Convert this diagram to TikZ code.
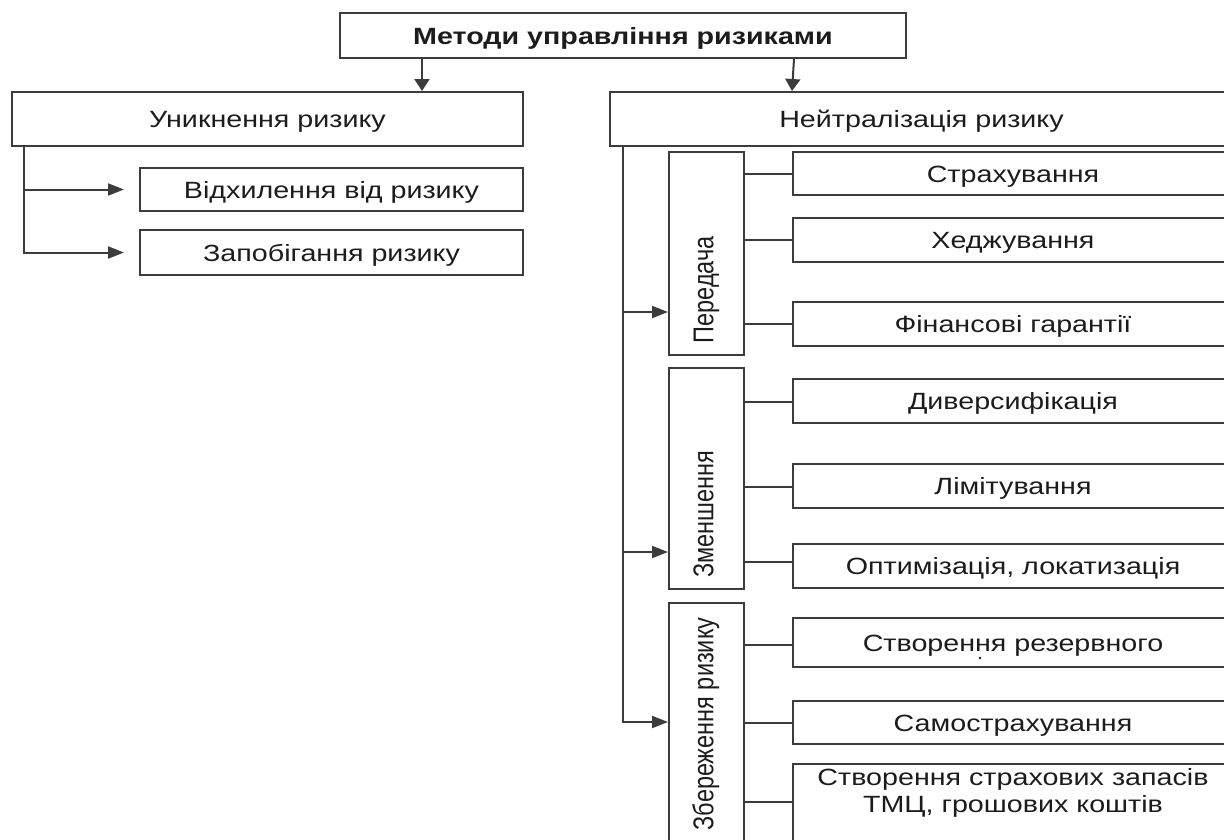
\documentclass[tikz,border=0pt]{standalone}
\usepackage{fontspec}
\setmainfont{Liberation Sans}[FakeStretch=1.22]
\newfontfamily\vertfont{Liberation Sans}
\usetikzlibrary{arrows.meta}
\definecolor{linec}{HTML}{3C3C3C}
\definecolor{txtc}{HTML}{1C1C1C}
\begin{document}
\begin{tikzpicture}[x=1pt,y=-1pt,
  box/.style={draw=linec, line width=2pt, anchor=north west, inner sep=0pt, text=txtc, align=center,
    font=\fontsize{23.5}{27}\selectfont, text height=17pt, text depth=0pt},
  ln/.style={draw=linec, line width=2pt},
  harr/.style={ln, -{Triangle[length=16pt,width=12pt]}},
  varr/.style={ln, -{Triangle[length=12pt,width=15pt]}},
  vlab/.style={rotate=90, inner sep=0pt, text=txtc, font=\vertfont\fontsize{23.5}{27}\selectfont,
    text height=20.5pt, text depth=6pt},
]
\useasboundingbox (0,0) rectangle (1224,839);

% title
\node[box, minimum width=566pt, minimum height=45pt, font=\fontsize{23.5}{27}\selectfont\bfseries] (title) at (339,12) {Методи управління ризиками};

% left branch
\node[box, minimum width=511pt, minimum height=54pt] (avoid) at (11,91) {Уникнення ризику};
\node[box, minimum width=383pt, minimum height=43pt] (dev) at (139,167) {Відхилення від ризику};
\node[box, minimum width=383pt, minimum height=45pt] (prev) at (139,229) {Запобігання ризику};

% right branch
\node[box, minimum width=623pt, minimum height=54pt] (neut) at (609,91) {Нейтралізація ризику};
\node[box, minimum width=75pt, minimum height=203pt] (pered) at (668,151) {};
\node[box, minimum width=75pt, minimum height=221pt] (zmen) at (668,367) {};
\node[box, minimum width=75pt, minimum height=244pt] (zber) at (668,602) {};
\node[vlab] (lpered) at (706,290) {\scalebox{1}[1.22]{Передача}};
\node[vlab] (lzmen) at (706,514) {\scalebox{1}[1.22]{Зменшення}};
\node[vlab] (lzber) at (706,724) {\scalebox{1}[1.22]{Збереження ризику}};

\node[box, minimum width=440pt, minimum height=43pt] (s1) at (792,151) {Страхування};
\node[box, minimum width=440pt, minimum height=44pt] (s2) at (792,217) {Хеджування};
\node[box, minimum width=440pt, minimum height=44pt] (s3) at (792,301) {Фінансові гарантії};
\node[box, minimum width=440pt, minimum height=44pt] (z1) at (792,378) {Диверсифікація};
\node[box, minimum width=440pt, minimum height=44pt] (z2) at (792,463) {Лімітування};
\node[box, minimum width=440pt, minimum height=44pt] (z3) at (792,543) {Оптимізація, локатизація};
\node[box, minimum width=440pt, minimum height=49pt] (b1) at (792,617) {Створення резервного};
\node[box, minimum width=440pt, minimum height=43pt] (b2) at (792,700) {Самострахування};
\node[box, minimum width=440pt, minimum height=79pt] (b3) at (792,763) {Створення страхових запасів\\ТМЦ, грошових коштів};
\fill[txtc] (980,658) circle (1.4);

% top arrows
\draw[varr] ([xshift=83pt]title.south west) -- ([xshift=411pt]avoid.north west);
\draw[varr] ([xshift=455pt]title.south west) -- ([xshift=183pt]neut.north west);

% left connectors
\coordinate (lv) at ([xshift=13pt]avoid.south west);
\draw[harr] (lv |- dev.west) -- ([xshift=-15pt]dev.west);
\draw[harr] (lv) |- ([xshift=-15pt]prev.west);

% right connectors
\coordinate (rv) at ([xshift=14pt]neut.south west);
\draw[harr] (rv |- 0,312) -- (pered.west |- 0,312);
\draw[harr] (rv |- 0,552) -- (zmen.west |- 0,552);
\draw[harr] (rv) |- (zber.west |- 0,722);

\draw[ln] (pered.east |- s1.west) -- (s1.west);
\draw[ln] (pered.east |- s2.west) -- (s2.west);
\draw[ln] (pered.east |- s3.west) -- (s3.west);
\draw[ln] (zmen.east |- 0,402) -- (z1.west |- 0,402);
\draw[ln] (zmen.east |- 0,487) -- (z2.west |- 0,487);
\draw[ln] (zmen.east |- 0,562) -- (z3.west |- 0,562);
\draw[ln] (zber.east |- 0,645) -- (b1.west |- 0,645);
\draw[ln] (zber.east |- b2.west) -- (b2.west);
\draw[ln] (zber.east |- 0,802) -- (b3.west |- 0,802);
\end{tikzpicture}
\end{document}
